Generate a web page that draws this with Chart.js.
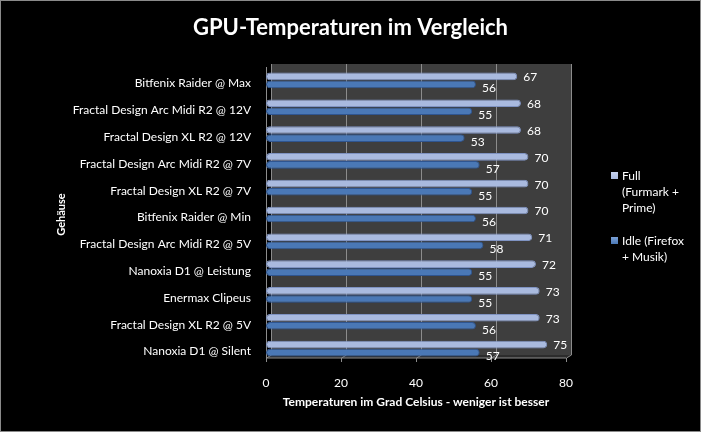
<!DOCTYPE html>
<html>
<head>
<meta charset="utf-8">
<script src="https://cdn.jsdelivr.net/npm/chart.js@4"></script>
<style>
  body { margin: 0; background: #000; }
  #wrap { position: relative; width: 701px; height: 432px; }
  #legend { position: absolute; left: 611px; top: 168px; width: 85px; color: #fff;
            font: 12px Lato, sans-serif; line-height: 16px; }
  #legend .item { position: relative; padding-left: 11px; margin-bottom: 17px; }
  #legend .box { position: absolute; left: 0; top: 4px; width: 7px; height: 7px; }
</style>
</head>
<body>
<div id="wrap">
  <canvas id="chart" width="701" height="432"></canvas>
  <div id="legend"></div>
</div>
<script>
// categories, top to bottom
const categories = [
    'Bitfenix Raider @ Max',
    'Fractal Design Arc Midi R2 @ 12V',
    'Fractal Design XL R2 @ 12V',
    'Fractal Design Arc Midi R2 @ 7V',
    'Fractal Design XL R2 @ 7V',
    'Bitfenix Raider @ Min',
    'Fractal Design Arc Midi R2 @ 5V',
    'Nanoxia D1 @ Leistung',
    'Enermax Clipeus',
    'Fractal Design XL R2 @ 5V',
    'Nanoxia D1 @ Silent'
];
const fullValues = [67, 68, 68, 70, 70, 70, 71, 72, 73, 73, 75];
const idleValues = [56, 55, 53, 57, 55, 56, 58, 55, 55, 56, 57];
const seriesNames = ['Full (Furmark + Prime)', 'Idle (Firefox + Musik)'];
// legend lines, wrapped as in the original
const legendLines = [['Full', '(Furmark +', 'Prime)'], ['Idle (Firefox', '+ Musik)']];
const xTicks = [0, 20, 40, 60, 80];
const chartTitle = 'GPU-Temperaturen im Vergleich';

const fullColor = '#a9badf';
const idleColor = '#4a78b6';

function barGradient(ctx, light, mid, dark) {
    const el = ctx.element;
    if (!el || !Number.isFinite(el.y)) return mid;
    const h = 8;
    const g = ctx.chart.ctx.createLinearGradient(0, el.y - h / 2, 0, el.y + h / 2);
    g.addColorStop(0, light);
    g.addColorStop(0.45, mid);
    g.addColorStop(1, dark);
    return g;
}

const wallPlugin = {
    id: 'wall',
    beforeDraw(chart) {
        const c = chart.ctx;
        const a = chart.chartArea;
        const xs = chart.scales.x;
        c.save();
        c.fillStyle = '#000';
        c.fillRect(0, 0, chart.width, chart.height);
        c.strokeStyle = '#8a8a8a';
        c.lineWidth = 1;
        c.strokeRect(0.5, 0.5, chart.width - 1, chart.height - 1);
        // title, centred on the whole picture
        c.fillStyle = '#ffffff';
        c.font = 'bold 22px Lato, sans-serif';
        c.textAlign = 'center';
        c.textBaseline = 'middle';
        c.fillText(chartTitle, chart.width / 2, 28);
        // back wall
        const dx = 5, dy = -3;
        const bottom = a.bottom - 4;
        c.fillStyle = '#3e3e3e';
        c.fillRect(a.left + dx, a.top + dy, a.right - a.left, bottom - a.top);
        // floor
        c.fillStyle = '#2c2c2c';
        c.beginPath();
        c.moveTo(a.left, bottom);
        c.lineTo(a.left + dx, bottom + dy);
        c.lineTo(a.right + dx, bottom + dy);
        c.lineTo(a.right, bottom);
        c.closePath();
        c.fill();
        // gridlines
        c.strokeStyle = '#8c8c8c';
        xTicks.forEach(v => {
            const x = Math.round(xs.getPixelForValue(v)) + 0.5;
            c.beginPath();
            c.moveTo(x + dx, a.top + dy);
            c.lineTo(x + dx, bottom + dy);
            c.lineTo(x, bottom);
            c.lineTo(x, bottom + 4);
            c.stroke();
        });
        // left wall edge
        c.beginPath();
        c.moveTo(a.left + 0.5, a.top);
        c.lineTo(a.left + 0.5, bottom);
        c.lineTo(a.right, bottom);
        c.stroke();
        c.restore();
    }
};

const labelPlugin = {
    id: 'valueLabels',
    afterDatasetsDraw(chart) {
        const c = chart.ctx;
        c.save();
        c.fillStyle = '#ffffff';
        c.font = '12px Lato, sans-serif';
        c.textBaseline = 'middle';
        chart.data.datasets.forEach((ds, i) => {
            chart.getDatasetMeta(i).data.forEach((bar, j) => {
                c.fillText(ds.data[j], bar.x + 6, bar.y + (i === 0 ? 1 : 4));
            });
        });
        c.restore();
    }
};

new Chart(document.getElementById('chart'), {
    type: 'bar',
    data: {
        labels: categories,
        datasets: [{
            label: seriesNames[0],
            data: fullValues,
            backgroundColor: ctx => barGradient(ctx, '#d6def2', fullColor, '#7e92c4'),
            borderColor: '#7f93c2',
            borderWidth: 1,
            borderRadius: 4,
            borderSkipped: false
        }, {
            label: seriesNames[1],
            data: idleValues,
            backgroundColor: ctx => barGradient(ctx, '#6f98d0', idleColor, '#2f5590'),
            borderColor: '#2f5590',
            borderWidth: 1,
            borderRadius: 4,
            borderSkipped: false
        }]
    },
    options: {
        indexAxis: 'y',
        responsive: false,
        animation: false,
        layout: { padding: { left: 55, right: 135, top: 67, bottom: 0 } },
        datasets: { bar: { categoryPercentage: 0.6, barPercentage: 0.95 } },
        plugins: {
            legend: { display: false },
            tooltip: { enabled: false },
            title: { display: false }
        },
        scales: {
            x: {
                min: 0,
                max: 80,
                afterBuildTicks: s => { s.ticks = xTicks.map(v => ({ value: v })); },
                afterFit: s => { s.height = 70; },
                grid: { display: false, drawTicks: false },
                border: { display: false },
                ticks: { color: '#ffffff', font: { family: 'Lato, sans-serif', size: 12 }, padding: 14 },
                title: {
                    display: true,
                    text: 'Temperaturen im Grad Celsius - weniger ist besser',
                    color: '#ffffff',
                    font: { family: 'Lato, sans-serif', size: 12, weight: 'bold' },
                    padding: { top: 4, bottom: 23 }
                }
            },
            y: {
                afterFit: s => { s.width = 211; },
                grid: { display: false, drawTicks: false },
                border: { display: false },
                ticks: { color: '#ffffff', font: { family: 'Lato, sans-serif', size: 12 }, padding: 15, labelOffset: 3 },
                title: {
                    display: true,
                    text: 'Gehäuse',
                    color: '#ffffff',
                    font: { family: 'Lato, sans-serif', size: 11, weight: 'bold' },
                    padding: 0
                }
            }
        }
    },
    plugins: [wallPlugin, labelPlugin]
});

// legend on the right
const legend = document.getElementById('legend');
[['#c7d2ee', fullColor], ['#7aa0d6', idleColor]].forEach((cols, i) => {
    const item = document.createElement('div');
    item.className = 'item';
    const box = document.createElement('span');
    box.className = 'box';
    box.style.background = 'linear-gradient(' + cols[0] + ',' + cols[1] + ')';
    item.appendChild(box);
    legendLines[i].forEach((line, k) => {
        if (k > 0) item.appendChild(document.createElement('br'));
        item.appendChild(document.createTextNode(line));
    });
    legend.appendChild(item);
});
</script>
</body>
</html>
